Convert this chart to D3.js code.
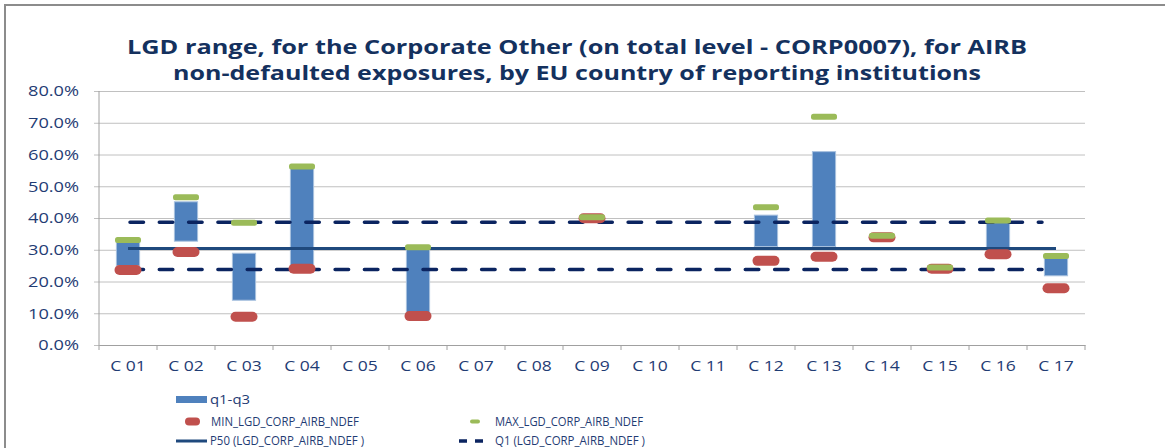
<!DOCTYPE html>
<html>
<head>
<meta charset="utf-8">
<script src="https://cdn.jsdelivr.net/npm/d3@7/dist/d3.min.js"></script>
<style>
  html, body { margin: 0; padding: 0; background: #fff; }
  svg { display: block; }
  text { font-family: "Open Sans", "DejaVu Sans", sans-serif; }
</style>
</head>
<body>
<svg id="chart" width="1165" height="448"></svg>
<script>
// Countries of reporting institutions
const categories = ["C 01","C 02","C 03","C 04","C 05","C 06","C 07","C 08","C 09",
                    "C 10","C 11","C 12","C 13","C 14","C 15","C 16","C 17"];
// Interquartile range per country (null = not reported)
const q1Values  = [0.250, 0.327, 0.141, 0.250, null, 0.102, null, null, null, null, null, 0.310, 0.310, null, null, 0.300, 0.218];
const q3Values  = [0.325, 0.451, 0.289, 0.556, null, 0.305, null, null, null, null, null, 0.409, 0.609, null, null, 0.389, 0.273];
// Minimum and maximum LGD per country
const minValues = [0.236, 0.293, 0.089, 0.240, null, 0.091, null, null, 0.399, null, null, 0.265, 0.278, 0.339, 0.240, 0.286, 0.179];
const maxValues = [0.331, 0.465, 0.385, 0.562, null, 0.308, null, null, 0.402, null, null, 0.434, 0.719, 0.344, 0.244, 0.392, 0.280];
// EU-wide reference levels
const p50Level = 0.304;
const q1Level  = 0.238;
const q3Level  = 0.387;
const yTicks = [0, 0.1, 0.2, 0.3, 0.4, 0.5, 0.6, 0.7, 0.8];
const titleLines = [
  "LGD range, for the Corporate Other (on total level - CORP0007), for AIRB",
  "non-defaulted exposures, by EU country of reporting institutions"
];

const C = {
  bar: "#4F81BD", barEdge: "#A7C0DE", min: "#C0504D", max: "#9BBB59",
  p50: "#1F497D", quart: "#0B2460", grid: "#C0C0C0", axis: "#A0A0A0",
  title: "#14315E", label: "#1F3C74"
};

const svg = d3.select("#chart");

// Horizontally stretch text to a given factor of its natural width
function stretch(sel, k) {
  sel.each(function () {
    const w = this.getComputedTextLength();
    d3.select(this).attr("textLength", w * k).attr("lengthAdjust", "spacingAndGlyphs");
  });
}

// Outer chart frame
svg.append("rect").attr("x", 5).attr("y", 5).attr("width", 1300).attr("height", 600)
  .attr("fill", "none").attr("stroke", "#8C8C8C").attr("stroke-width", 2);

// Title
const title = svg.append("g");
title.selectAll("text").data(titleLines).join("text")
  .attr("x", 577).attr("y", (d, i) => 54 + i * 26)
  .attr("text-anchor", "middle")
  .attr("font-size", 19).attr("font-weight", "bold").attr("fill", C.title)
  .text(d => d);
title.selectAll("text").each(function (d, i) {
  d3.select(this).attr("textLength", i === 0 ? 900 : 808).attr("lengthAdjust", "spacingAndGlyphs");
});

const x = d3.scaleBand().domain(categories).range([99, 1085]).paddingInner(0.6).paddingOuter(0.3);
const y = d3.scaleLinear().domain([0, 0.8]).range([345, 91]);
const cx = c => x(c) + x.bandwidth() / 2;

// Gridlines with left tick marks
const yAxis = svg.append("g").attr("transform", "translate(99,0)")
  .call(d3.axisLeft(y).tickValues(yTicks).tickFormat(d3.format(".1%"))
    .tickSize(-(1085 - 99)).tickPadding(20));
yAxis.select(".domain").remove();
yAxis.selectAll(".tick line").attr("stroke", C.grid).attr("x1", -5);
yAxis.selectAll(".tick text").attr("font-size", 14).attr("fill", C.label).attr("dy", "0.35em");
stretch(yAxis.selectAll(".tick text"), 1.3);

// Axis lines
svg.append("line").attr("x1", 99).attr("x2", 99).attr("y1", 91).attr("y2", 345)
  .attr("stroke", C.axis);
const xAxis = svg.append("g").attr("transform", "translate(0,345)")
  .call(d3.axisBottom(x).tickSize(0).tickPadding(16));
xAxis.select(".domain").attr("stroke", C.axis);
xAxis.selectAll(".tick text").attr("font-size", 14).attr("fill", C.label);
stretch(xAxis.selectAll(".tick text"), 1.25);
// Category boundary ticks
const bounds = d3.range(categories.length + 1).map(i => 99 + i * x.step());
svg.append("g").selectAll("line").data(bounds).join("line")
  .attr("x1", d => d).attr("x2", d => d).attr("y1", 345).attr("y2", 350)
  .attr("stroke", C.axis);

// q1-q3 bars
const barData = categories.map((c, i) => ({ c, lo: q1Values[i], hi: q3Values[i] }))
  .filter(d => d.lo != null && d.hi != null);
svg.append("g").selectAll("rect").data(barData).join("rect")
  .attr("x", d => x(d.c)).attr("width", x.bandwidth())
  .attr("y", d => y(d.hi)).attr("height", d => y(d.lo) - y(d.hi))
  .attr("fill", C.bar).attr("stroke", C.barEdge).attr("stroke-width", 1);

// Reference levels across countries
const first = cx(categories[0]), last = cx(categories[categories.length - 1]);
svg.append("line").attr("x1", first).attr("x2", last)
  .attr("y1", y(p50Level)).attr("y2", y(p50Level))
  .attr("stroke", C.p50).attr("stroke-width", 3);
[q1Level, q3Level].forEach(v => {
  svg.append("line").attr("x1", first + 2).attr("x2", last - 14)
    .attr("y1", y(v)).attr("y2", y(v))
    .attr("stroke", C.quart).attr("stroke-width", 3.5)
    .attr("stroke-linecap", "round").attr("stroke-dasharray", "13.5,15.8");
});

// Min / max markers
const minData = categories.map((c, i) => ({ c, v: minValues[i] })).filter(d => d.v != null);
const maxData = categories.map((c, i) => ({ c, v: maxValues[i] })).filter(d => d.v != null);
svg.append("g").selectAll("rect").data(minData).join("rect")
  .attr("x", d => cx(d.c) - 13.5).attr("width", 27)
  .attr("y", d => y(d.v) - 5).attr("height", 10).attr("rx", 5)
  .attr("fill", C.min);
svg.append("g").selectAll("rect").data(maxData).join("rect")
  .attr("x", d => cx(d.c) - 13).attr("width", 26)
  .attr("y", d => y(d.v) - 3).attr("height", 6).attr("rx", 2.5)
  .attr("fill", C.max);

// Legend
const lg = svg.append("g");
lg.append("rect").attr("x", 176).attr("y", 396).attr("width", 31).attr("height", 7).attr("fill", C.bar);
lg.append("rect").attr("x", 185).attr("y", 417.5).attr("width", 15).attr("height", 8).attr("rx", 4).attr("fill", C.min);
lg.append("rect").attr("x", 470).attr("y", 419.5).attr("width", 10).attr("height", 4).attr("rx", 2).attr("fill", C.max);
lg.append("line").attr("x1", 176).attr("x2", 207).attr("y1", 441).attr("y2", 441)
  .attr("stroke", C.p50).attr("stroke-width", 3);
lg.append("line").attr("x1", 459).attr("x2", 483).attr("y1", 441).attr("y2", 441)
  .attr("stroke", C.quart).attr("stroke-width", 3.5).attr("stroke-dasharray", "8,8");
const legendItems = [
  { t: "q1-q3", x: 210, y: 399, w: 40 },
  { t: "MIN_LGD_CORP_AIRB_NDEF", x: 211, y: 421.5, w: 148 },
  { t: "MAX_LGD_CORP_AIRB_NDEF", x: 495, y: 421.5, w: 148 },
  { t: "P50 (LGD_CORP_AIRB_NDEF )", x: 210, y: 440, w: 154 },
  { t: "Q1 (LGD_CORP_AIRB_NDEF )", x: 495, y: 440, w: 150 }
];
lg.selectAll("text").data(legendItems).join("text")
  .attr("x", d => d.x).attr("y", d => d.y).attr("dy", "0.35em")
  .attr("font-size", 13.5).attr("fill", C.label)
  .attr("textLength", d => d.w).attr("lengthAdjust", "spacingAndGlyphs")
  .text(d => d.t);
</script>
</body>
</html>
